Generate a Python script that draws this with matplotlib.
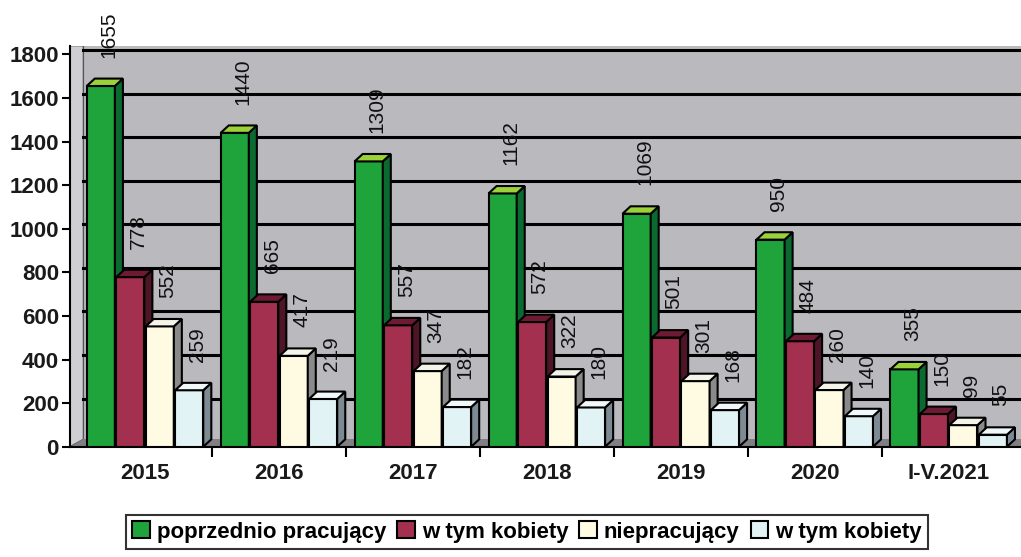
import numpy as np
import matplotlib
matplotlib.use("Agg")
import matplotlib.pyplot as plt
from matplotlib.patches import Polygon, Patch

categories = ["2015", "2016", "2017", "2018", "2019", "2020", "I-V.2021"]
poprzednio = [1655, 1440, 1309, 1162, 1069, 950, 355]
kobiety_pop = [778, 665, 557, 572, 501, 484, 150]
niepracujacy = [552, 417, 347, 322, 301, 260, 99]
kobiety_niep = [259, 219, 182, 180, 168, 140, 55]
series_names = ["poprzednio pracujący", "w tym kobiety", "niepracujący", "w tym kobiety"]

plt.rcParams['font.family'] = ['Liberation Sans', 'DejaVu Sans']

fronts = ['#1fa43c', '#a3304f', '#fffbe3', '#e2f3f6']
sides = ['#0b6a30', '#4e1526', '#8a8a8a', '#7d8a94']
tops = ['#9bd23a', '#6e1a33', '#f4f4e8', '#f0f8fa']

fig = plt.figure(figsize=(10.21, 5.57), dpi=100)
ax = fig.add_axes([70/1021, 0.198, 951/1021, 0.72])

x = np.arange(len(categories))
width = 0.21
offsets = [-0.33, -0.11, 0.11, 0.33]
dx, dy = 0.06, 34
xmin, xmax = -0.56, 6.54
ymax = 1840

ax.set_xlim(xmin, xmax)
ax.set_ylim(0, ymax)
ax.set_facecolor('#b9b9be')

# side wall and floor
ax.add_patch(Polygon([(xmin, 0), (xmin + 0.1, dy), (xmin + 0.1, ymax), (xmin, ymax)],
                     closed=True, facecolor='#cfcfd3', edgecolor='#555555', lw=1, zorder=1))
ax.add_patch(Polygon([(xmin, 0), (xmax, 0), (xmax, dy), (xmin + 0.1, dy)],
                     closed=True, facecolor='#7f7f84', edgecolor='none', zorder=1))
for yv in range(200, 1801, 200):
    ax.plot([xmin + 0.1, xmax], [yv + dy * 0.6, yv + dy * 0.6], color='black', lw=2.2, zorder=1.5)

data = [poprzednio, kobiety_pop, niepracujacy, kobiety_niep]
for k, vals in enumerate(data):
    xs = x + offsets[k]
    z = 3 + k
    ax.bar(xs, vals, width, color=fronts[k], edgecolor='black', lw=1.5, zorder=z)
    for xi, v in zip(xs, vals):
        x0, x1 = xi - width / 2, xi + width / 2
        ax.add_patch(Polygon([(x1, 0), (x1 + dx, dy), (x1 + dx, v + dy), (x1, v)], closed=True,
                             facecolor=sides[k], edgecolor='black', lw=1.5, zorder=z))
        ax.add_patch(Polygon([(x0, v), (x1, v), (x1 + dx, v + dy), (x0 + dx, v + dy)], closed=True,
                             facecolor=tops[k], edgecolor='black', lw=1.5, zorder=z))
        ax.text(xi + 0.06, v + 130, str(v), rotation=90, ha='center', va='bottom',
                fontsize=15, color='#111111', zorder=10)

ax.set_yticks(range(0, 1801, 200))
ax.set_yticklabels([str(v) for v in range(0, 1801, 200)], fontsize=16,
                   fontweight='bold', color='#1a1a1a')
ax.set_xticks(x)
ax.set_xticklabels(categories, fontsize=16, fontweight='bold', color='#1a1a1a')
ax.tick_params(axis='x', length=0, pad=12)
ax.tick_params(axis='y', length=6, width=1.5, direction='out', pad=2)
ax.set_xticks(x[:-1] + 0.5, minor=True)
ax.tick_params(axis='x', which='minor', length=7, width=1.5, direction='out')
for s in ['top', 'right']:
    ax.spines[s].set_visible(False)
ax.spines['left'].set_linewidth(1.5)
ax.spines['bottom'].set_linewidth(1.5)

handles = [Patch(facecolor=fronts[k], edgecolor='black', lw=1.5) for k in range(4)]
leg = fig.legend(handles, series_names, loc='center', bbox_to_anchor=(527/1021, 1 - 532/557),
                 ncol=4, frameon=True, fancybox=False,
                 handlelength=0.8, handleheight=0.8, handletextpad=0.3, columnspacing=0.5,
                 borderpad=0.3, prop={'weight': 'bold', 'size': 16})
leg.get_frame().set_edgecolor('black')
leg.get_frame().set_linewidth(1.5)

fig.savefig('out.png', dpi=100)
